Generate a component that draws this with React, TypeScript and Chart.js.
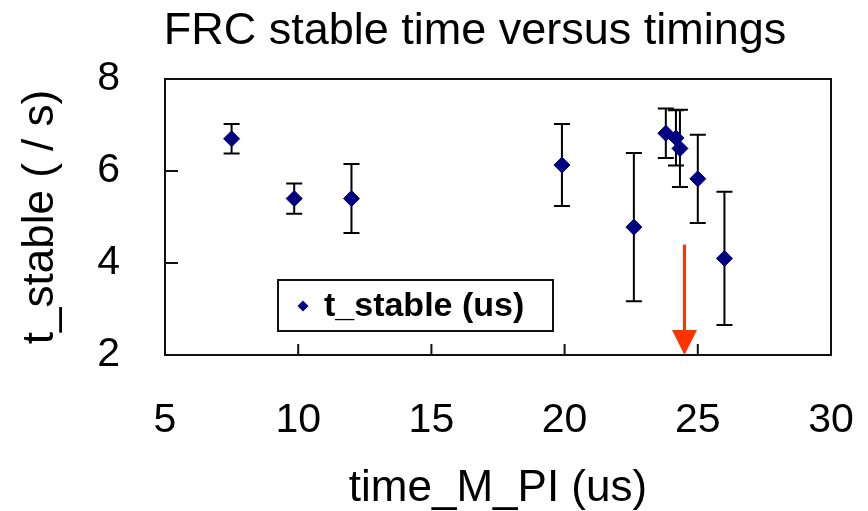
import React, { useEffect, useRef } from "react";
import { Chart, registerables } from "chart.js";

Chart.register(...registerables);

// ---- data ----
const timeMPI = [7.5, 9.85, 12.0, 19.9, 22.6, 23.8, 24.18, 24.33, 25.0, 26.0];
const tStable = [6.7, 5.4, 5.4, 6.13, 4.78, 6.82, 6.72, 6.49, 5.83, 4.1];
const tStableErr = [0.32, 0.33, 0.75, 0.89, 1.61, 0.54, 0.6, 0.84, 0.96, 1.45];
const xTicks = [5, 10, 15, 20, 25, 30];
const yTicks = [2, 4, 6, 8];
const arrowX = 24.5;
const arrowFromY = 4.4;
const arrowToY = 2.0;
const seriesLabel = "t_stable (us)";
const chartTitle = "FRC stable time versus timings";
const xTitle = "time_M_PI (us)";
const yTitle = "t_stable ( / s)";

const FONT = "'Liberation Sans', Arial, Helvetica, sans-serif";
const NAVY = "#000080";

const errorBarPlugin = {
  id: "errorBars",
  beforeDatasetsDraw(chart: any) {
    const { ctx, scales } = chart;
    const xs = scales.x;
    const ys = scales.y;
    ctx.save();
    ctx.strokeStyle = "#000";
    ctx.lineWidth = 2;
    for (let i = 0; i < timeMPI.length; i++) {
      const px = xs.getPixelForValue(timeMPI[i]);
      const pTop = ys.getPixelForValue(tStable[i] + tStableErr[i]);
      const pBot = ys.getPixelForValue(tStable[i] - tStableErr[i]);
      ctx.beginPath();
      ctx.moveTo(px, pTop);
      ctx.lineTo(px, pBot);
      ctx.moveTo(px - 8, pTop);
      ctx.lineTo(px + 8, pTop);
      ctx.moveTo(px - 8, pBot);
      ctx.lineTo(px + 8, pBot);
      ctx.stroke();
    }
    ctx.restore();
  },
};

const decorPlugin = {
  id: "decor",
  afterDraw(chart: any) {
    const { ctx, chartArea, scales } = chart;
    const xs = scales.x;
    const ys = scales.y;
    ctx.save();
    // frame
    ctx.strokeStyle = "#111";
    ctx.lineWidth = 2;
    ctx.strokeRect(chartArea.left, chartArea.top, chartArea.right - chartArea.left, chartArea.bottom - chartArea.top);
    // inward tick marks
    ctx.beginPath();
    xTicks.forEach((v) => {
      const p = xs.getPixelForValue(v);
      ctx.moveTo(p, chartArea.bottom);
      ctx.lineTo(p, chartArea.bottom - 11);
    });
    yTicks.forEach((v) => {
      const p = ys.getPixelForValue(v);
      ctx.moveTo(chartArea.left, p);
      ctx.lineTo(chartArea.left + 13, p);
    });
    ctx.stroke();

    // red arrow
    const ax = xs.getPixelForValue(arrowX);
    const ay0 = ys.getPixelForValue(arrowFromY);
    const ay1 = ys.getPixelForValue(arrowToY);
    ctx.strokeStyle = "#FF3300";
    ctx.fillStyle = "#FF3300";
    ctx.lineWidth = 3;
    ctx.beginPath();
    ctx.moveTo(ax, ay0);
    ctx.lineTo(ax, ay1 - 20);
    ctx.stroke();
    ctx.beginPath();
    ctx.moveTo(ax - 12.5, ay1 - 25);
    ctx.lineTo(ax + 12.5, ay1 - 25);
    ctx.lineTo(ax, ay1);
    ctx.closePath();
    ctx.fill();

    // legend box
    const lx = chartArea.left + 113;
    const ly = chartArea.top + 201;
    ctx.strokeStyle = "#111";
    ctx.lineWidth = 2;
    ctx.strokeRect(lx, ly, 275, 51);
    ctx.fillStyle = NAVY;
    const dx = lx + 25;
    const dy = ly + 26;
    const r = 5.5;
    ctx.beginPath();
    ctx.moveTo(dx, dy - r);
    ctx.lineTo(dx + r, dy);
    ctx.lineTo(dx, dy + r);
    ctx.lineTo(dx - r, dy);
    ctx.closePath();
    ctx.fill();
    ctx.fillStyle = "#000";
    ctx.font = `bold 34px ${FONT}`;
    ctx.textAlign = "left";
    ctx.textBaseline = "alphabetic";
    ctx.fillText(seriesLabel, lx + 46, ly + 36);

    // chart title
    ctx.font = `45px ${FONT}`;
    ctx.textAlign = "center";
    ctx.fillText(chartTitle, (chartArea.left + chartArea.right) / 2 - 23, chartArea.top - 35);
    ctx.restore();
  },
};

export default function App() {
  const ref = useRef<HTMLCanvasElement | null>(null);
  useEffect(() => {
    if (!ref.current) return;
    const chart = new Chart(ref.current, {
      type: "scatter",
      data: {
        datasets: [
          {
            label: seriesLabel,
            data: timeMPI.map((x, i) => ({ x, y: tStable[i] })),
            pointStyle: "rectRot",
            pointRadius: 8,
            pointBackgroundColor: NAVY,
            pointBorderColor: NAVY,
            pointBorderWidth: 1,
            showLine: false,
          },
        ],
      },
      plugins: [errorBarPlugin, decorPlugin],
      options: {
        animation: false,
        responsive: false,
        devicePixelRatio: 1,
        layout: { padding: { top: 79, right: 37, bottom: 0, left: 0 } },
        plugins: {
          legend: { display: false },
          title: { display: false },
          tooltip: { enabled: false },
        },
        scales: {
          x: {
            type: "linear",
            min: 5,
            max: 30,
            afterBuildTicks: (s: any) => {
              s.ticks = xTicks.map((v) => ({ value: v }));
            },
            ticks: {
              padding: 33,
              maxRotation: 0,
              color: "#000",
              font: { family: FONT, size: 41, lineHeight: 1.2 },
            },
            grid: { display: false },
            border: { display: false },
            title: {
              display: true,
              text: xTitle,
              color: "#000",
              font: { family: FONT, size: 44, lineHeight: 1 },
              padding: { top: 0, bottom: 0 },
            },
            afterFit: (s: any) => {
              s.height = 156;
              s.paddingLeft = 0;
              s.paddingRight = 0;
            },
          },
          y: {
            type: "linear",
            min: 2,
            max: 8,
            afterBuildTicks: (s: any) => {
              s.ticks = yTicks.map((v) => ({ value: v }));
            },
            ticks: {
              padding: 37,
              color: "#000",
              font: { family: FONT, size: 41, lineHeight: 1.2 },
            },
            grid: { display: false },
            border: { display: false },
            title: {
              display: true,
              text: yTitle,
              color: "#000",
              font: { family: FONT, size: 44, lineHeight: 1 },
              padding: { top: 19, bottom: 0 },
            },
            afterFit: (s: any) => {
              s.width = 165;
              s.paddingTop = 0;
              s.paddingBottom = 0;
            },
          },
        },
      },
    });
    return () => chart.destroy();
  }, []);
  return (
    <div style={{ position: "fixed", left: 0, top: 0, width: 868, height: 511, background: "#fff" }}>
      <canvas ref={ref} width={868} height={511} style={{ display: "block" }} />
    </div>
  );
}
